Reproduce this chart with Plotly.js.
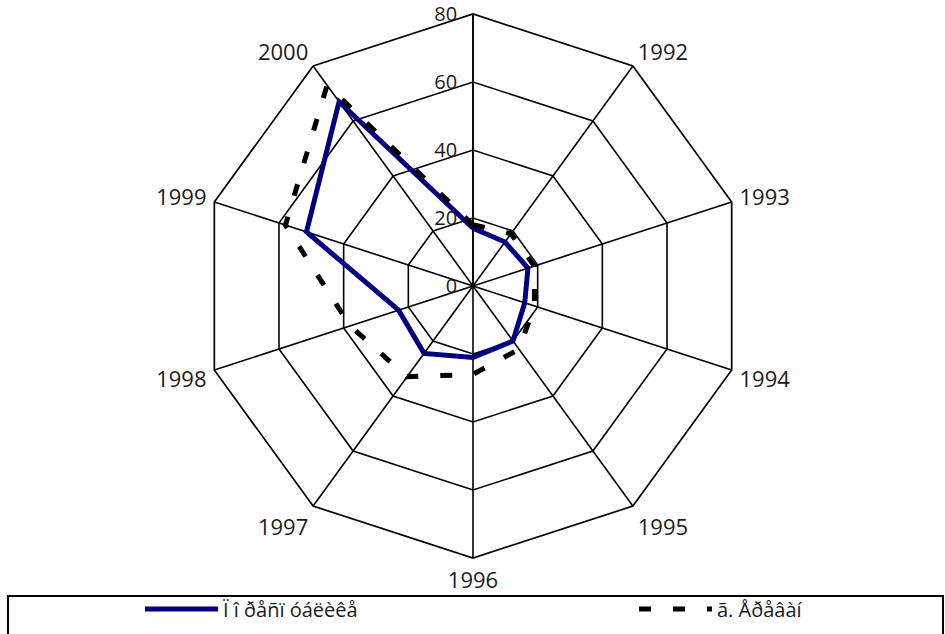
<!DOCTYPE html>
<html><head><meta charset="utf-8">
<script src="https://cdn.plot.ly/plotly-3.0.1.min.js"></script>
<style>html,body{margin:0;padding:0;background:#fff}</style>
</head><body><div id="chart" style="width:945px;height:634px"></div>
<script>
const categories = [' ', '1992', '1993', '1994', '1995', '1996', '1997', '1998', '1999', '2000'];
const republicValues = [17, 16, 17, 16, 20, 21, 24.5, 23, 51.5, 67];
const yerevanValues = [18, 19, 19, 19, 23, 26, 33, 38, 58, 73];
const radialTicks = [0, 20, 40, 60, 80];
const seriesNames = ['Ï î ðåñï óáëèêå', 'ã. Åðåâàí'];

function closeLoop(a) { return a.concat([a[0]]); }

const W = 945, H = 634;
const cx = 473, cy = 286, R = 272;

const traces = [
  {
    type: 'scatterpolar', mode: 'lines', name: seriesNames[0], legend: 'legend',
    r: closeLoop(republicValues), theta: closeLoop(categories),
    line: {color: '#000080', width: 5}
  },
  {
    type: 'scatterpolar', mode: 'lines', name: seriesNames[1], legend: 'legend2',
    r: closeLoop(yerevanValues), theta: closeLoop(categories),
    line: {color: '#000000', width: 5, dash: '12px,22px'}
  }
];

const legendCommon = {
  orientation: 'h', xanchor: 'left', y: 1 - 609 / H, yanchor: 'middle',
  bgcolor: 'rgba(0,0,0,0)', borderwidth: 0, itemwidth: 73,
  font: {family: 'Open Sans, sans-serif', size: 20, color: '#1a1a1a'}
};

const layout = {
  width: W, height: H,
  margin: {l: 0, r: 0, t: 0, b: 0},
  paper_bgcolor: '#ffffff',
  font: {family: 'Open Sans, sans-serif', size: 21, color: '#1a1a1a'},
  showlegend: true,
  polar: {
    domain: {x: [(cx - R) / W, (cx + R) / W], y: [1 - (cy + R) / H, 1 - (cy - R) / H]},
    bgcolor: '#ffffff',
    gridshape: 'linear',
    angularaxis: {
      type: 'category', categoryarray: categories,
      rotation: 90, direction: 'clockwise',
      showline: true, linecolor: '#000', linewidth: 1.7,
      showgrid: true, gridcolor: '#000', gridwidth: 1.6,
      ticks: 'outside', ticklen: 3, tickcolor: 'rgba(0,0,0,0)',
      tickfont: {size: 22, color: '#1a1a1a'}
    },
    radialaxis: {
      range: [0, 80], tickmode: 'array', tickvals: radialTicks,
      angle: 90, side: 'counterclockwise', tickangle: 90,
      showline: true, linecolor: '#000', linewidth: 1.6,
      showgrid: true, gridcolor: '#000', gridwidth: 1.6,
      ticks: 'outside', ticklen: 8, tickcolor: 'rgba(0,0,0,0)',
      tickfont: {size: 20, color: '#1a1a1a'}
    }
  },
  legend: Object.assign({}, legendCommon, {x: 140 / W}),
  legend2: Object.assign({}, legendCommon, {x: 634 / W}),
  shapes: [{
    type: 'rect', xref: 'paper', yref: 'paper',
    x0: 8 / W, x1: 943 / W, y0: -0.2, y1: 1 - 596 / H,
    line: {color: '#000', width: 2}, fillcolor: 'rgba(0,0,0,0)'
  }]
};

Plotly.newPlot('chart', traces, layout, {displayModeBar: false, staticPlot: true});
</script>
</body></html>
